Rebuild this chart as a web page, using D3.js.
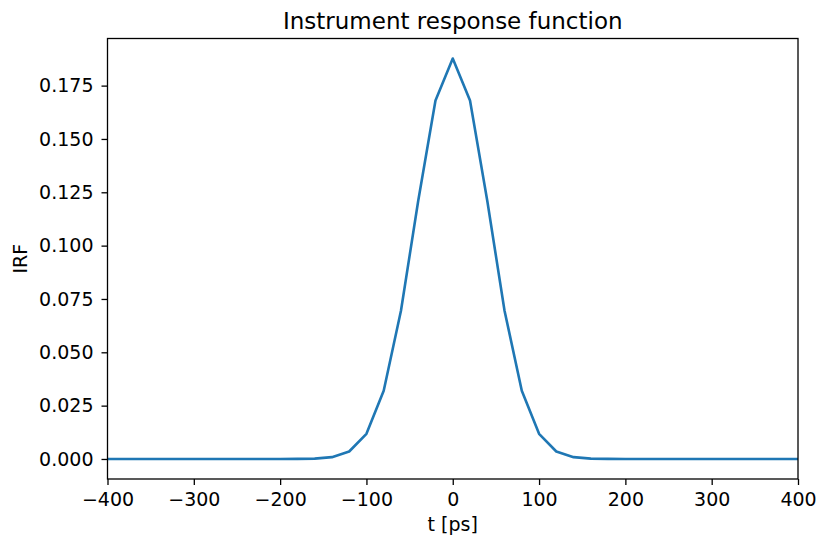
<!DOCTYPE html>
<html><head><meta charset="utf-8">
<script src="https://cdn.jsdelivr.net/npm/d3@7"></script>
<style>body{margin:0;background:#fff}svg{display:block}text{font-family:"DejaVu Sans",sans-serif;fill:#000}</style>
</head><body>
<svg id="c" width="817" height="541"></svg>
<script>
const times = [-400,-380,-360,-340,-320,-300,-280,-260,-240,-220,-200,-180,-160,-140,-120,-100,-80,-60,-40,-20,0,20,40,60,80,100,120,140,160,180,200,220,240,260,280,300,320,340,360,380,400];
const irf = [0,0,0,0,0,0,0,0,0,0.000001,0.000004,0.00003,0.00017,0.00085,0.0035,0.0118,0.032,0.0695,0.121,0.168,0.1877,0.168,0.121,0.0695,0.032,0.0118,0.0035,0.00085,0.00017,0.00003,0.000004,0.000001,0,0,0,0,0,0,0,0,0];
const xTicks = [-400,-300,-200,-100,0,100,200,300,400];
const yTicks = [0,0.025,0.05,0.075,0.1,0.125,0.15,0.175];
const title = "Instrument response function";
const xLabel = "t [ps]";
const yLabel = "IRF";

const L=107.5, R=798, T=38.5, B=479;
const svg=d3.select("#c");
const x=d3.scaleLinear().domain([-400,400]).range([L,R]);
const ymax=d3.max(irf), pad=ymax*0.05;
const y=d3.scaleLinear().domain([-pad,ymax+pad]).range([B,T]);

const fmtY=d=>d.toFixed(3).replace("-","\u2212");
const fmtX=d=>String(d).replace("-","\u2212");

const xa=svg.append("g").attr("transform",`translate(0,${B})`)
  .call(d3.axisBottom(x).tickValues(xTicks).tickFormat(fmtX).tickSize(6).tickPadding(6));
const ya=svg.append("g").attr("transform",`translate(${L},0)`)
  .call(d3.axisLeft(y).tickValues(yTicks).tickFormat(fmtY).tickSize(6).tickPadding(8));
[xa,ya].forEach(a=>{
  a.select(".domain").remove();
  a.selectAll("line").attr("stroke","#000").attr("stroke-width",1.3);
  a.selectAll("text").style("font-family",'"DejaVu Sans",sans-serif').style("font-size","19px").attr("fill","#000");
});
xa.selectAll("text").attr("dy","0.8em");

svg.append("path").datum(times.map((t,i)=>[t,irf[i]]))
  .attr("fill","none").attr("stroke","#1f77b4").attr("stroke-width",2.6).attr("stroke-linejoin","round")
  .attr("d",d3.line().x(d=>x(d[0])).y(d=>y(d[1])));

svg.append("rect").attr("x",L).attr("y",T).attr("width",R-L).attr("height",B-T)
  .attr("fill","none").attr("stroke","#000").attr("stroke-width",1.3);

svg.append("text").attr("x",(L+R)/2).attr("y",28.5).attr("text-anchor","middle").style("font-size","23px").text(title);
svg.append("text").attr("x",(L+R)/2).attr("y",531).attr("text-anchor","middle").style("font-size","19px").text(xLabel);
svg.append("text").attr("transform",`translate(27,${(T+B)/2}) rotate(-90)`).attr("text-anchor","middle").style("font-size","19px").text(yLabel);
</script>
</body></html>
